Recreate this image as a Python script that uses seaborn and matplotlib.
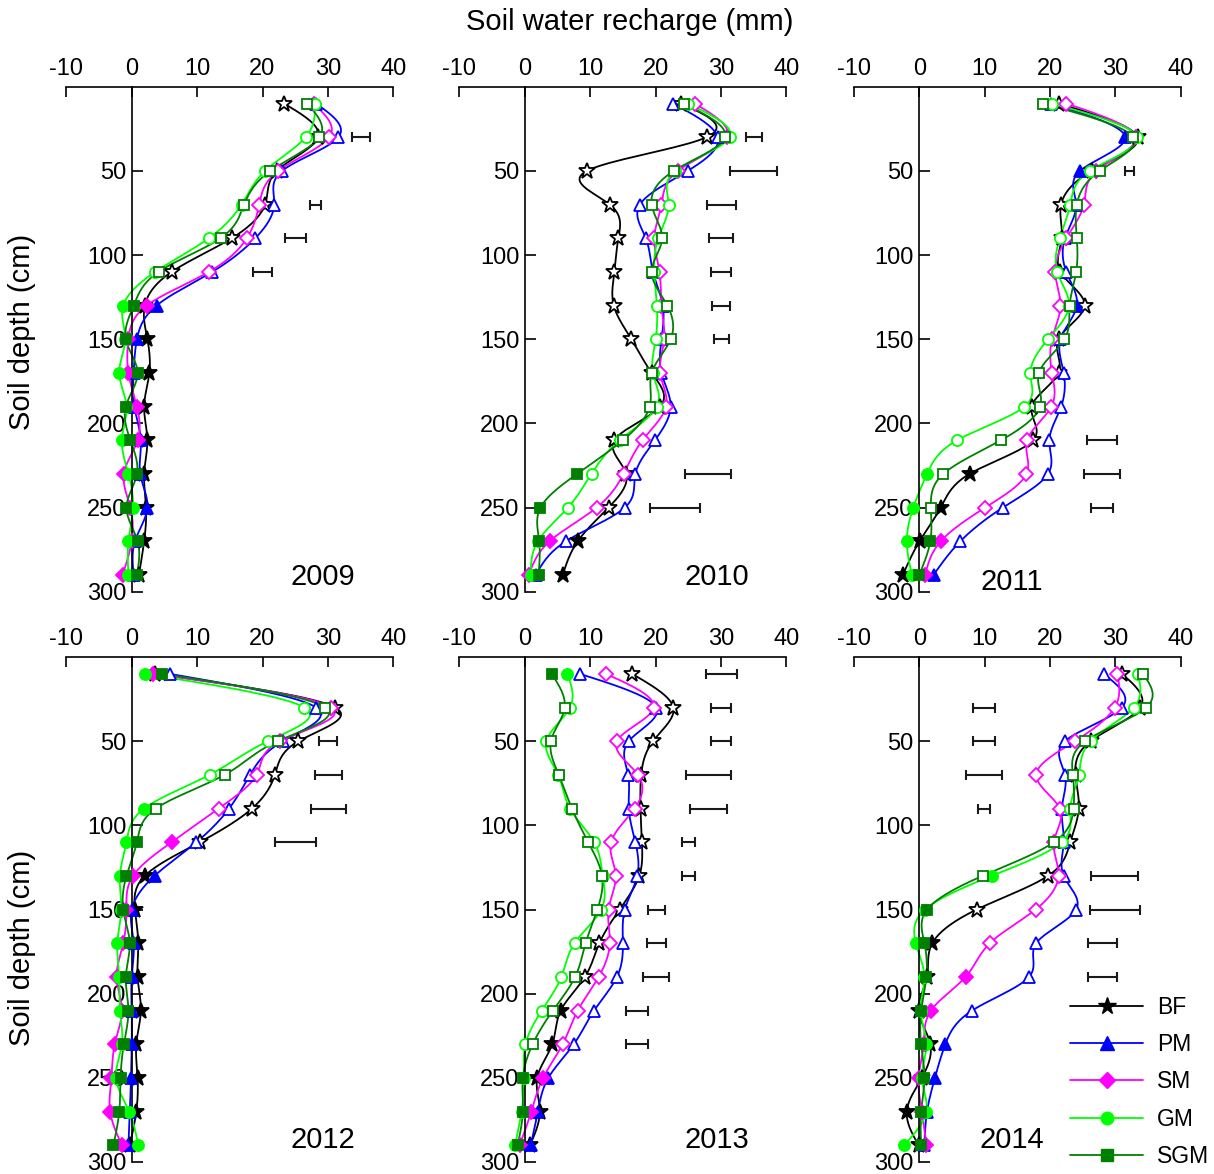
import numpy as np
import pandas as pd
import matplotlib
matplotlib.use("Agg")
import matplotlib.pyplot as plt
from matplotlib.lines import Line2D
import seaborn as sns

sns.set_theme(style="white")
plt.rcParams["font.family"] = ["Liberation Sans", "DejaVu Sans"]
plt.rcParams["text.color"] = "black"
plt.rcParams["axes.labelcolor"] = "black"
plt.rcParams["axes.unicode_minus"] = False

# ---------------- data ----------------
depths = [10, 30, 50, 70, 90, 110, 130, 150, 170, 190, 210, 230, 250, 270, 290]
years = [2009, 2010, 2011, 2012, 2013, 2014]
treatments = ["BF", "PM", "SM", "GM", "SGM"]
x_ticks = [-10, 0, 10, 20, 30, 40]
y_ticks = [50, 100, 150, 200, 250, 300]

recharge_2009 = {
    "BF":  [23.3, 28.5, 22.2, 20.4, 15.3, 6.1, 2.0, 2.4, 2.7, 1.9, 2.4, 1.9, 2.2, 1.9, 1.1],
    "PM":  [28.2, 31.6, 23.0, 21.8, 18.9, 12.3, 3.8, 0.8, 0.3, 0.4, 1.4, 1.3, 2.4, 0.5, 0.3],
    "SM":  [27.8, 30.2, 22.4, 19.5, 17.6, 11.8, 2.3, -0.5, -0.5, 0.8, 0.9, -1.2, -0.2, 0.0, -1.4],
    "GM":  [28.0, 26.6, 20.4, 16.8, 11.8, 3.6, -1.3, -1.0, -1.9, -0.8, -1.5, -0.5, 0.2, -0.5, -0.5],
    "SGM": [26.8, 28.7, 21.2, 17.2, 13.6, 4.1, 0.3, -0.9, 0.9, -0.9, -0.2, 0.8, -0.8, 0.9, 0.8],
}
recharge_2010 = {
    "BF":  [23.9, 27.8, 9.5, 13.0, 14.3, 13.7, 13.6, 16.3, 19.4, 20.7, 13.7, 15.5, 12.8, 8.1, 5.8],
    "PM":  [22.7, 29.5, 24.9, 17.6, 18.5, 19.6, 21.1, 20.9, 20.9, 22.3, 19.9, 16.9, 15.3, 6.3, 1.7],
    "SM":  [26.0, 30.9, 23.4, 20.9, 19.8, 20.6, 20.9, 21.3, 20.7, 21.6, 18.0, 15.1, 11.0, 3.8, 0.6],
    "GM":  [24.9, 31.3, 23.0, 22.0, 20.4, 19.8, 20.2, 20.0, 19.6, 20.2, 14.5, 10.2, 6.6, 2.0, 0.9],
    "SGM": [24.3, 30.6, 22.8, 19.4, 21.0, 19.4, 21.8, 22.3, 19.4, 19.1, 15.0, 8.0, 2.4, 2.2, 2.1],
}
recharge_2011 = {
    "BF":  [21.3, 33.4, 26.4, 21.7, 21.8, 21.6, 25.3, 21.3, 21.3, 17.2, 17.4, 7.7, 3.3, 0.05, -2.5],
    "PM":  [20.1, 31.5, 24.6, 24.0, 22.3, 22.5, 24.1, 21.6, 22.1, 21.7, 19.9, 19.7, 12.8, 6.3, 2.2],
    "SM":  [22.5, 33.1, 27.1, 25.2, 22.5, 20.8, 21.6, 20.3, 20.3, 20.2, 16.5, 16.4, 10.1, 3.3, 0.9],
    "GM":  [20.3, 33.3, 26.1, 23.1, 21.5, 21.1, 22.9, 19.7, 17.0, 16.1, 5.8, 1.2, -0.9, -1.9, -1.1],
    "SGM": [18.9, 32.7, 27.6, 24.1, 24.1, 24.0, 23.0, 22.2, 18.3, 18.5, 12.5, 3.7, 1.8, 1.7, 0.0],
}
recharge_2012 = {
    "BF":  [3.6, 31.1, 25.5, 21.9, 18.4, 10.4, 2.0, 0.5, 1.0, 0.9, 1.4, 0.7, 0.9, 0.7, -0.3],
    "PM":  [5.8, 28.2, 23.1, 18.1, 14.9, 9.9, 3.5, 0.0, 0.3, 0.0, 0.0, 0.0, -0.1, -0.3, -0.5],
    "SM":  [3.2, 30.5, 22.7, 19.1, 13.3, 6.1, 0.2, -0.8, -1.3, -2.3, -1.5, -2.6, -3.1, -3.3, -1.5],
    "GM":  [2.0, 26.4, 20.8, 11.9, 1.9, -0.8, -1.8, -1.6, -2.2, -1.9, -1.8, -1.5, -2.4, -0.4, 1.0],
    "SGM": [4.7, 29.6, 22.3, 14.2, 3.7, 0.8, -0.8, -1.3, -0.3, -0.9, -0.5, -1.2, -1.7, -1.9, -2.8],
}
recharge_2013 = {
    "BF":  [16.4, 22.7, 19.6, 17.8, 17.7, 17.9, 17.5, 14.5, 11.4, 9.2, 5.5, 4.2, 1.9, 2.3, 0.8],
    "PM":  [8.4, 20.1, 15.9, 15.8, 15.9, 16.9, 17.2, 15.3, 15.0, 14.1, 10.6, 7.5, 3.6, 2.0, 0.9],
    "SM":  [12.4, 19.7, 14.1, 17.3, 16.8, 13.2, 13.9, 12.8, 13.0, 11.3, 8.1, 5.8, 2.8, 1.0, -0.8],
    "GM":  [6.5, 6.9, 3.3, 5.1, 6.9, 10.6, 11.9, 11.7, 7.6, 5.6, 2.6, 0.1, -0.1, -0.5, -1.5],
    "SGM": [4.1, 6.1, 4.0, 5.2, 7.2, 9.7, 11.8, 11.1, 9.3, 7.7, 4.3, 1.2, -0.3, -0.3, -1.1],
}
recharge_2014 = {
    "BF":  [31.0, 33.8, 26.2, 23.9, 24.4, 23.1, 19.7, 8.8, 2.0, 1.2, -0.1, 1.7, 0.4, -1.9, -0.1],
    "PM":  [28.2, 31.0, 22.3, 22.3, 21.8, 22.1, 22.1, 24.0, 17.9, 16.8, 8.1, 4.0, 2.4, 1.2, 0.8],
    "SM":  [30.3, 29.9, 23.8, 17.9, 21.5, 20.6, 21.3, 17.8, 10.8, 7.1, 1.8, 0.7, -0.1, 0.4, 1.1],
    "GM":  [33.4, 32.8, 26.2, 24.4, 23.1, 21.8, 11.1, 0.9, -0.5, 0.8, 0.2, 1.1, 0.4, 1.1, -2.3],
    "SGM": [34.2, 34.7, 25.4, 23.5, 23.6, 20.6, 9.7, 1.2, 0.8, 1.1, 0.3, 0.3, 0.8, 0.3, 0.3],
}

# marker state per depth: o = open (significant), f = filled
state_2009 = {"BF": "oooooofffffffff", "PM": "oooooofffffffff", "SM": "oooooofffffffff",
              "GM": "oooooofffffffff", "SGM": "oooooofffffffff"}
state_2010 = {"BF": "oooooooooooooff", "PM": "oooooooooooooof", "SM": "oooooooooooooff",
              "GM": "oooooooooooooff", "SGM": "oooooooooooffff"}
state_2011 = {"BF": "oooooooooooffff", "PM": "offooofoooooooff"[:15], "SM": "oooooooooooooff",
              "GM": "oooooooooooffff", "SGM": "oooooooooooooff"}
state_2012 = {"BF": "fooooofffffffff", "PM": "oooooofffffffff", "SM": "fooooffffffffff",
              "GM": "foooffffffffff" + "f", "SGM": "fooooffffffffff"}
state_2013 = {"BF": "oooooooooooffff"[:10] + "fffff", "PM": "oooooooooooofff",
              "SM": "oooooooooooofff", "GM": "fooooooooooofff", "SGM": "fooooooooooofff"}
state_2014 = {"BF": "ooooooooffffffff"[:15], "PM": "ooooooooooofffff"[:15],
              "SM": "ooooooooofffffff"[:15], "GM": "ooooooffffffffff"[:15],
              "SGM": "oooooooffffffff"}

# LSD bars: depth, left end, right end
lsd_2009 = {"depth": [30, 70, 90, 110], "lo": [33.7, 27.2, 23.5, 18.5], "hi": [36.5, 29.0, 26.7, 21.5]}
lsd_2010 = {"depth": [30, 50, 70, 90, 110, 130, 150, 230, 250],
            "lo": [33.8, 31.4, 27.9, 28.2, 28.4, 28.7, 28.9, 24.5, 19.2],
            "hi": [36.2, 38.5, 32.3, 31.8, 31.6, 31.3, 31.2, 31.5, 26.8]}
lsd_2011 = {"depth": [50, 210, 230, 250], "lo": [31.5, 25.6, 25.2, 26.2], "hi": [32.8, 30.3, 30.7, 29.6]}
lsd_2012 = {"depth": [50, 70, 90, 110], "lo": [28.7, 28.1, 27.4, 21.9], "hi": [31.4, 32.1, 32.7, 28.2]}
lsd_2013 = {"depth": [10, 30, 50, 70, 90, 110, 130, 150, 170, 190, 210, 230],
            "lo": [27.7, 28.4, 28.4, 24.6, 25.3, 24.0, 24.0, 18.8, 18.7, 18.1, 15.4, 15.4],
            "hi": [32.4, 31.6, 31.6, 31.5, 30.9, 26.1, 26.1, 21.4, 21.6, 22.0, 18.8, 18.8]}
lsd_2014 = {"depth": [30, 50, 70, 90, 130, 150, 170, 190],
            "lo": [8.3, 8.3, 7.2, 9.0, 26.3, 26.1, 25.8, 25.8],
            "hi": [11.6, 11.6, 12.7, 10.9, 33.5, 33.7, 30.2, 30.2]}

# year label positions (data coords)
year_label_x = [29.2, 29.4, 14.1, 29.2, 29.4, 14.1]
year_label_depth = [291, 291, 294, 287, 287, 287]

recharge = dict(zip(years, [recharge_2009, recharge_2010, recharge_2011,
                            recharge_2012, recharge_2013, recharge_2014]))
states = dict(zip(years, [state_2009, state_2010, state_2011, state_2012, state_2013, state_2014]))
lsd = dict(zip(years, [lsd_2009, lsd_2010, lsd_2011, lsd_2012, lsd_2013, lsd_2014]))

rows = []
for yr in years:
    for t in treatments:
        for d, v, s in zip(depths, recharge[yr][t], states[yr][t]):
            rows.append({"year": yr, "treatment": t, "depth": d, "value": v, "open": s == "o"})
df = pd.DataFrame(rows)

# ---------------- styles ----------------
colors = {"BF": "#000000", "PM": "#0000FF", "SM": "#FF00FF", "GM": "#00FF00", "SGM": "#008000"}
markers = {"BF": "*", "PM": "^", "SM": "D", "GM": "o", "SGM": "s"}
msizes = {"BF": 12, "PM": 8.5, "SM": 7, "GM": 8, "SGM": 7.5}


def natural_spline(t, y, per=20):
    t = np.asarray(t, float)
    y = np.asarray(y, float)
    n = len(t)
    h = np.diff(t)
    A = np.zeros((n, n))
    b = np.zeros(n)
    A[0, 0] = A[-1, -1] = 1
    for i in range(1, n - 1):
        A[i, i - 1] = h[i - 1]
        A[i, i] = 2 * (h[i - 1] + h[i])
        A[i, i + 1] = h[i]
        b[i] = 6 * ((y[i + 1] - y[i]) / h[i] - (y[i] - y[i - 1]) / h[i - 1])
    M = np.linalg.solve(A, b)
    ts, ys = [], []
    for i in range(n - 1):
        s = np.linspace(t[i], t[i + 1], per, endpoint=(i == n - 2))
        a = (t[i + 1] - s) / h[i]
        c = (s - t[i]) / h[i]
        v = a * y[i] + c * y[i + 1] + ((a ** 3 - a) * M[i] + (c ** 3 - c) * M[i + 1]) * h[i] ** 2 / 6
        ts.append(s)
        ys.append(v)
    return np.concatenate(ts), np.concatenate(ys)


W, H = 1214, 1174
fig = plt.figure(figsize=(W / 100, H / 100), dpi=100)
lefts = [66.3, 459.4, 853.8]
tops = [86.7, 657.0]
ax_w, ax_h = 327.0, 505.0

TICK_FS = 17
for k, yr in enumerate(years):
    r, c = divmod(k, 3)
    ax = fig.add_axes([lefts[c] / W, 1 - (tops[r] + ax_h) / H, ax_w / W, ax_h / H])
    sub = df[df["year"] == yr]
    for t in treatments:
        st = sub[sub["treatment"] == t]
        tt, xx = natural_spline(st["depth"].values, st["value"].values)
        sns.lineplot(x=xx, y=tt, sort=False, estimator=None, color=colors[t],
                     linewidth=1.3, ax=ax, zorder=2)
        for is_open, g in st.groupby("open"):
            ax.plot(g["value"], g["depth"], ls="none", marker=markers[t], ms=msizes[t],
                    mec=colors[t], mew=1.3, mfc="white" if is_open else colors[t],
                    zorder=3, clip_on=False)
    L = lsd[yr]
    lo = np.array(L["lo"])
    hi = np.array(L["hi"])
    ax.errorbar((lo + hi) / 2, L["depth"], xerr=(hi - lo) / 2, fmt="none",
                ecolor="#1a1a1a", elinewidth=1.5, capsize=3.5, capthick=1.5, zorder=4)
    ax.text(year_label_x[k], year_label_depth[k], str(yr), ha="center", va="center",
            fontsize=21, color="black")

    ax.set_xlim(-10, 40)
    ax.set_ylim(300, 0)
    ax.set_xticks(x_ticks)
    ax.set_yticks(y_ticks)
    ax.set_xlabel("")
    ax.set_ylabel("")
    ax.set_facecolor("none")
    for sp in ["right", "bottom"]:
        ax.spines[sp].set_visible(False)
    ax.spines["left"].set_position(("data", 0))
    for sp in ["left", "top"]:
        ax.spines[sp].set_color("black")
        ax.spines[sp].set_linewidth(1.2)
    ax.xaxis.tick_top()
    ax.tick_params(axis="x", which="both", direction="in", length=7, width=1.2,
                   top=True, bottom=False, labeltop=True, labelbottom=False,
                   labelsize=TICK_FS, pad=5, colors="black")
    ax.tick_params(axis="y", which="both", direction="in", length=8, width=1.2,
                   left=True, right=False, labelsize=TICK_FS, pad=4, colors="black")

fig.text(630 / W, 1 - 22 / H, "Soil water recharge (mm)", ha="center", va="center",
         fontsize=21, color="black")
fig.text(22 / W, 1 - 332 / H, "Soil depth (cm)", ha="center", va="center", rotation=90,
         fontsize=21, color="black")
fig.text(22 / W, 1 - 948 / H, "Soil depth (cm)", ha="center", va="center", rotation=90,
         fontsize=21, color="black")

handles = [Line2D([0], [0], color=colors[t], marker=markers[t], ms=msizes[t] + 1,
                  mfc=colors[t], mec=colors[t], lw=1.3) for t in treatments]
leg = fig.legend(handles, treatments, loc="upper left", bbox_to_anchor=(1070 / W, 1 - 996 / H),
                 frameon=False, fontsize=16.5, handlelength=3.2, handletextpad=0.6,
                 labelspacing=0.62, borderpad=0, borderaxespad=0)
for txt in leg.get_texts():
    txt.set_color("black")

fig.savefig("out.png", dpi=100)
